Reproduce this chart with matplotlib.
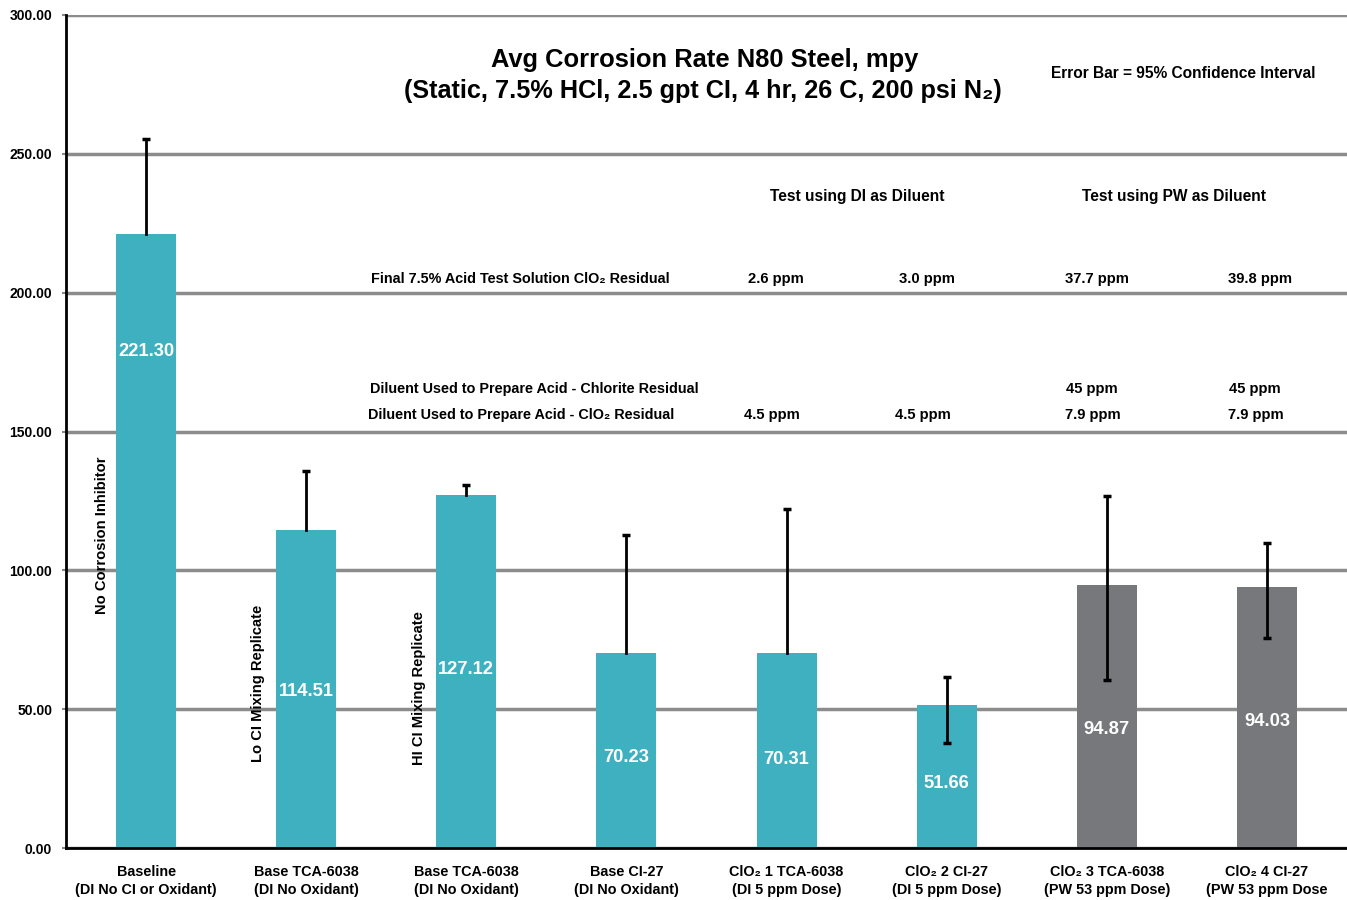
import matplotlib.pyplot as plt

plt.rcParams['font.family'] = ['Liberation Sans', 'DejaVu Sans']
plt.rcParams['font.weight'] = 'bold'

# Datos
categorias = ['Baseline\n(DI No CI or Oxidant)', 'Base TCA-6038\n(DI No Oxidant)',
              'Base TCA-6038\n(DI No Oxidant)', 'Base CI-27\n(DI No Oxidant)',
              'ClO\u2082 1 TCA-6038\n(DI 5 ppm Dose)', 'ClO\u2082 2 CI-27\n(DI 5 ppm Dose)',
              'ClO\u2082 3 TCA-6038\n(PW 53 ppm Dose)', 'ClO\u2082 4 CI-27\n(PW 53 ppm Dose']
valores = [221.30, 114.51, 127.12, 70.23, 70.31, 51.66, 94.87, 94.03]
err_sup = [34.0, 21.3, 3.6, 42.5, 51.8, 9.9, 31.9, 15.8]
err_inf = [0, 0, 0, 0, 0, 13.9, 34.4, 18.4]
colores = ['#3FB0BF'] * 6 + ['#77787B'] * 2
etiquetas_rot = ['No Corrosion Inhibitor', 'Lo CI Mixing Replicate', 'HI CI Mixing Replicate']
pos_etiqueta = [351, 692, 670, 758, 759, 784, 730, 722]  # y en pixeles de la imagen

# Tabla de residuales
fila_final = ['2.6 ppm', '3.0 ppm', '37.7 ppm', '39.8 ppm']
fila_clorito = ['', '', '45 ppm', '45 ppm']
fila_clo2 = ['4.5 ppm', '4.5 ppm', '7.9 ppm', '7.9 ppm']
x_tabla = [775, 926, 1096, 1259]

fig = plt.figure(figsize=(13.47, 9), dpi=100)
ax = fig.add_axes([66 / 1347, 52 / 900, 1 - 66 / 1347, (848 - 15) / 900])

x = list(range(len(valores)))
ax.bar(x, valores, width=0.375, color=colores, zorder=2)

# Barras de error (solo se dibuja el tope inferior si hay error hacia abajo)
for i, v in enumerate(valores):
    ax.plot([i, i], [v - err_inf[i], v + err_sup[i]], color='black', lw=2, zorder=3)
    ax.plot([i], [v + err_sup[i]], marker='_', ms=6, mew=2.5, color='black', zorder=3)
    if err_inf[i] > 0:
        ax.plot([i], [v - err_inf[i]], marker='_', ms=6, mew=2.5, color='black', zorder=3)

ax.set_xlim(-0.5, 7.5)
ax.set_ylim(0, 300)
ax.set_yticks(range(0, 301, 50))
ax.set_yticklabels([f'{v:.2f}' for v in range(0, 301, 50)], fontsize=10, fontweight='bold')
ax.set_xticks(x)
ax.set_xticklabels(categorias, fontsize=10.4, fontweight='bold', linespacing=1.35)
ax.tick_params(axis='x', length=0, pad=12)
ax.tick_params(axis='y', length=3, color='#888888', width=1.5, pad=7)
ax.grid(axis='y', color='#8C8C8C', linewidth=2.5, zorder=0)
for s in ['top', 'right']:
    ax.spines[s].set_visible(False)
ax.spines['left'].set_linewidth(2)
ax.spines['bottom'].set_linewidth(2)


def px_x(px):
    return (px - 146) / 160


def px_y(py):
    return (848 - py) / (833 / 300)


for i, v in enumerate(valores):
    ax.text(i, px_y(pos_etiqueta[i]), f'{v:.2f}', color='white', fontsize=13.2,
            fontweight='bold', ha='center', va='center', zorder=4)

for i, t in enumerate(etiquetas_rot):
    cy = [535, 683, 688][i]
    cx = [102, 258, 419][i]
    ax.text(px_x(cx), px_y(cy), t, rotation=90, fontsize=10.6, fontweight='bold',
            ha='center', va='center')

# Titulo
ax.text(px_x(704), px_y(60), 'Avg Corrosion Rate N80 Steel, mpy', fontsize=18.4,
        fontweight='bold', ha='center', va='center')
ax.text(px_x(702), px_y(91), '(Static, 7.5% HCl, 2.5 gpt CI, 4 hr, 26 C, 200 psi N\u2082)',
        fontsize=18.2, fontweight='bold', ha='center', va='center')
ax.text(px_x(1182), px_y(73), 'Error Bar = 95% Confidence Interval', fontsize=11.2,
        fontweight='bold', ha='center', va='center')

ax.text(px_x(857), px_y(196), 'Test using DI as Diluent', fontsize=11.2,
        fontweight='bold', ha='center', va='center')
ax.text(px_x(1173), px_y(196), 'Test using PW as Diluent', fontsize=11.2,
        fontweight='bold', ha='center', va='center')

ax.text(px_x(520), px_y(279), 'Final 7.5% Acid Test Solution ClO\u2082 Residual', fontsize=10.4,
        fontweight='bold', ha='center', va='center')
ax.text(px_x(534), px_y(389), 'Diluent Used to Prepare Acid - Chlorite Residual', fontsize=10.4,
        fontweight='bold', ha='center', va='center')
ax.text(px_x(521), px_y(415), 'Diluent Used to Prepare Acid - ClO\u2082 Residual', fontsize=10.4,
        fontweight='bold', ha='center', va='center')
for i in range(4):
    ax.text(px_x(x_tabla[i]), px_y(279), fila_final[i], fontsize=10.6, fontweight='bold',
            ha='center', va='center')
    ax.text(px_x(x_tabla[i] - 5), px_y(389), fila_clorito[i], fontsize=10.6, fontweight='bold',
            ha='center', va='center')
    ax.text(px_x(x_tabla[i] - 4), px_y(415), fila_clo2[i], fontsize=10.6, fontweight='bold',
            ha='center', va='center')

plt.savefig('out.png', dpi=100)
